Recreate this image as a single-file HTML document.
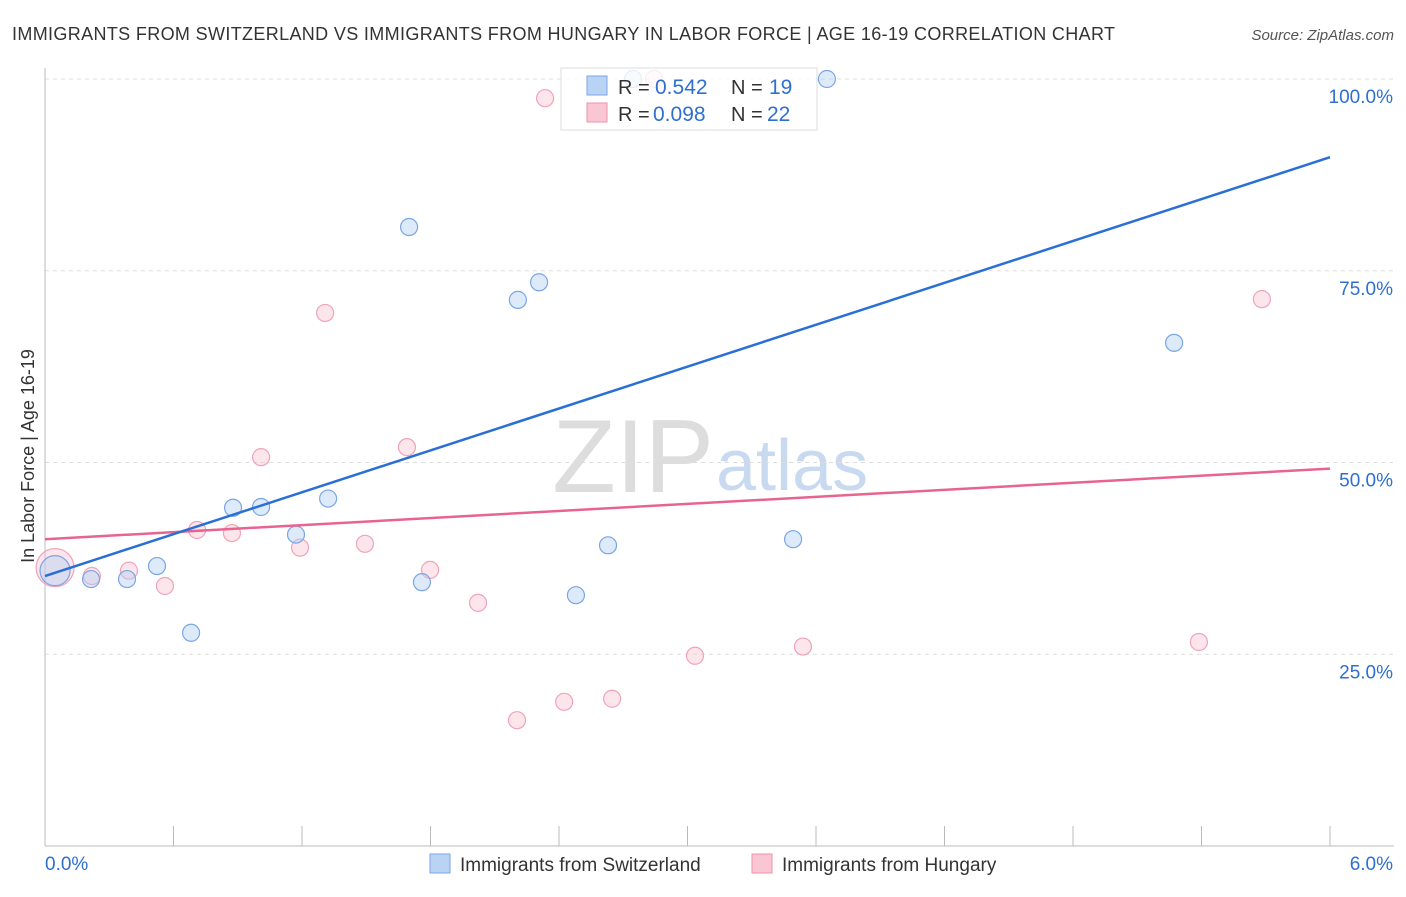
<!DOCTYPE html>
<html><head><meta charset="utf-8"><style>
body{margin:0;background:#fff;font-family:"Liberation Sans",sans-serif;}
svg text{font-family:"Liberation Sans",sans-serif;}
</style></head><body>
<svg id="chart" width="1406" height="892">
<text x="12" y="40" font-size="18" fill="#333" textLength="1103">IMMIGRANTS FROM SWITZERLAND VS IMMIGRANTS FROM HUNGARY IN LABOR FORCE | AGE 16-19 CORRELATION CHART</text>
<text x="1394" y="40" font-size="15" fill="#555" font-style="italic" text-anchor="end">Source: ZipAtlas.com</text>
<text x="714" y="492" font-size="104" fill="#ddd" text-anchor="end" font-family="Liberation Serif">ZIP</text>
<text x="716" y="490" font-size="72" fill="#c9daf0">atlas</text>
<g id="grid"></g><g id="axes"></g>
<g id="marks"></g>
<g>
<rect x="561" y="68" width="256" height="62" fill="rgba(255,255,255,0.8)" stroke="#ddd"/>
<rect x="587" y="76" width="20" height="19" fill="#b9d3f5" stroke="#7aa6e6"/>
<rect x="587" y="103" width="20" height="19" fill="#f9c6d4" stroke="#ee92ad"/>
<text x="618" y="94" font-size="20" fill="#333">R =</text><text x="655" y="94" font-size="21" fill="#2e6fd0">0.542</text>
<text x="731" y="94" font-size="20" fill="#333">N =</text><text x="769" y="94" font-size="21" fill="#2e6fd0">19</text>
<text x="618" y="121" font-size="20" fill="#333">R =</text><text x="653" y="121" font-size="21" fill="#2e6fd0">0.098</text>
<text x="731" y="121" font-size="20" fill="#333">N =</text><text x="767" y="121" font-size="21" fill="#2e6fd0">22</text>
</g>
<text transform="translate(34,456) rotate(-90)" font-size="18" fill="#333" text-anchor="middle">In Labor Force | Age 16-19</text>
<g>
<rect x="430" y="854" width="20" height="19" fill="#b9d3f5" stroke="#7aa6e6"/>
<text x="460" y="871" font-size="19" fill="#333">Immigrants from Switzerland</text>
<rect x="752" y="854" width="20" height="19" fill="#f9c6d4" stroke="#ee92ad"/>
<text x="782" y="871" font-size="19" fill="#333">Immigrants from Hungary</text>
</g>
</svg>
<script>
const yTicks=[25,50,75,100];
const yTickLabels=["25.0%","50.0%","75.0%","100.0%"];
const swX=[0.047,0.215,0.383,0.523,0.682,0.878,1.009,1.172,1.322,1.700,1.760,2.208,2.307,2.479,2.629,2.746,3.493,3.651,5.272];
const swY=[35.9,34.8,34.8,36.5,27.8,44.1,44.2,40.6,45.3,80.7,34.4,71.2,73.5,32.7,39.2,100,40.0,100,65.6];
const huX=[0.047,0.219,0.392,0.560,0.710,0.873,1.009,1.191,1.308,1.494,1.690,1.798,2.022,2.204,2.335,2.424,2.648,2.844,3.035,3.539,5.388,5.682];
const huY=[36.3,35.2,35.9,33.9,41.2,40.8,50.7,38.9,69.5,39.4,52.0,36.0,31.7,16.4,97.5,18.8,19.2,100,24.8,26.0,26.6,71.3];
const swTrend=[35.2,89.8];
const huTrend=[40.0,49.2];
const xr=v=>45+v/6*1285;
const yr=v=>846-v/100*767;
const NS="http://www.w3.org/2000/svg";
function mk(tag,attrs,parent){const e=document.createElementNS(NS,tag);for(const k in attrs)e.setAttribute(k,attrs[k]);document.getElementById(parent).appendChild(e);return e;}
yTicks.forEach((t,i)=>{
 const g=mk('line',{x1:45,x2:1394,y1:yr(t),y2:yr(t),stroke:'#ddd','stroke-dasharray':'4,4'},'grid');
 
 
 const l=mk('text',{x:1393,y:yr(t)+24,'font-size':19,fill:'#2e6fd0','text-anchor':'end'},'axes');
 l.textContent=yTickLabels[i];
 
 
});
const a1=mk('line',{x1:45,x2:45,y1:68,y2:846,stroke:'#bbb'},'axes');


const a2=mk('line',{x1:45,x2:1394,y1:846,y2:846,stroke:'#bbb'},'axes');


for(let i=1;i<=10;i++){const t=mk('line',{x1:xr(i*0.6),x2:xr(i*0.6),y1:826,y2:846,stroke:'#bbb'},'axes');
 
 }
const x0=mk('text',{x:45,y:870,'font-size':19,fill:'#2e6fd0'},'axes');x0.textContent='0.0%';


const x6=mk('text',{x:1393,y:870,'font-size':19,fill:'#2e6fd0','text-anchor':'end'},'axes');x6.textContent='6.0%';


huX.forEach((x,i)=>{const c=mk('circle',{cx:xr(x),cy:yr(huY[i]),r:i==0?19:8.5,fill:'rgba(249,190,207,0.4)',stroke:'#f0a3ba','stroke-width':1.2},'marks');
 
 });
swX.forEach((x,i)=>{const c=mk('circle',{cx:xr(x),cy:yr(swY[i]),r:i==0?15:8.5,fill:'rgba(180,208,245,0.45)',stroke:'#7aa6e6','stroke-width':1.2},'marks');
 
 });
const t1=mk('line',{x1:xr(0),x2:xr(6),y1:yr(huTrend[0]),y2:yr(huTrend[1]),stroke:'#e8648f','stroke-width':2.5},'marks');


const t2=mk('line',{x1:xr(0),x2:xr(6),y1:yr(swTrend[0]),y2:yr(swTrend[1]),stroke:'#2a6fd6','stroke-width':2.5},'marks');


</script>
</body></html>
